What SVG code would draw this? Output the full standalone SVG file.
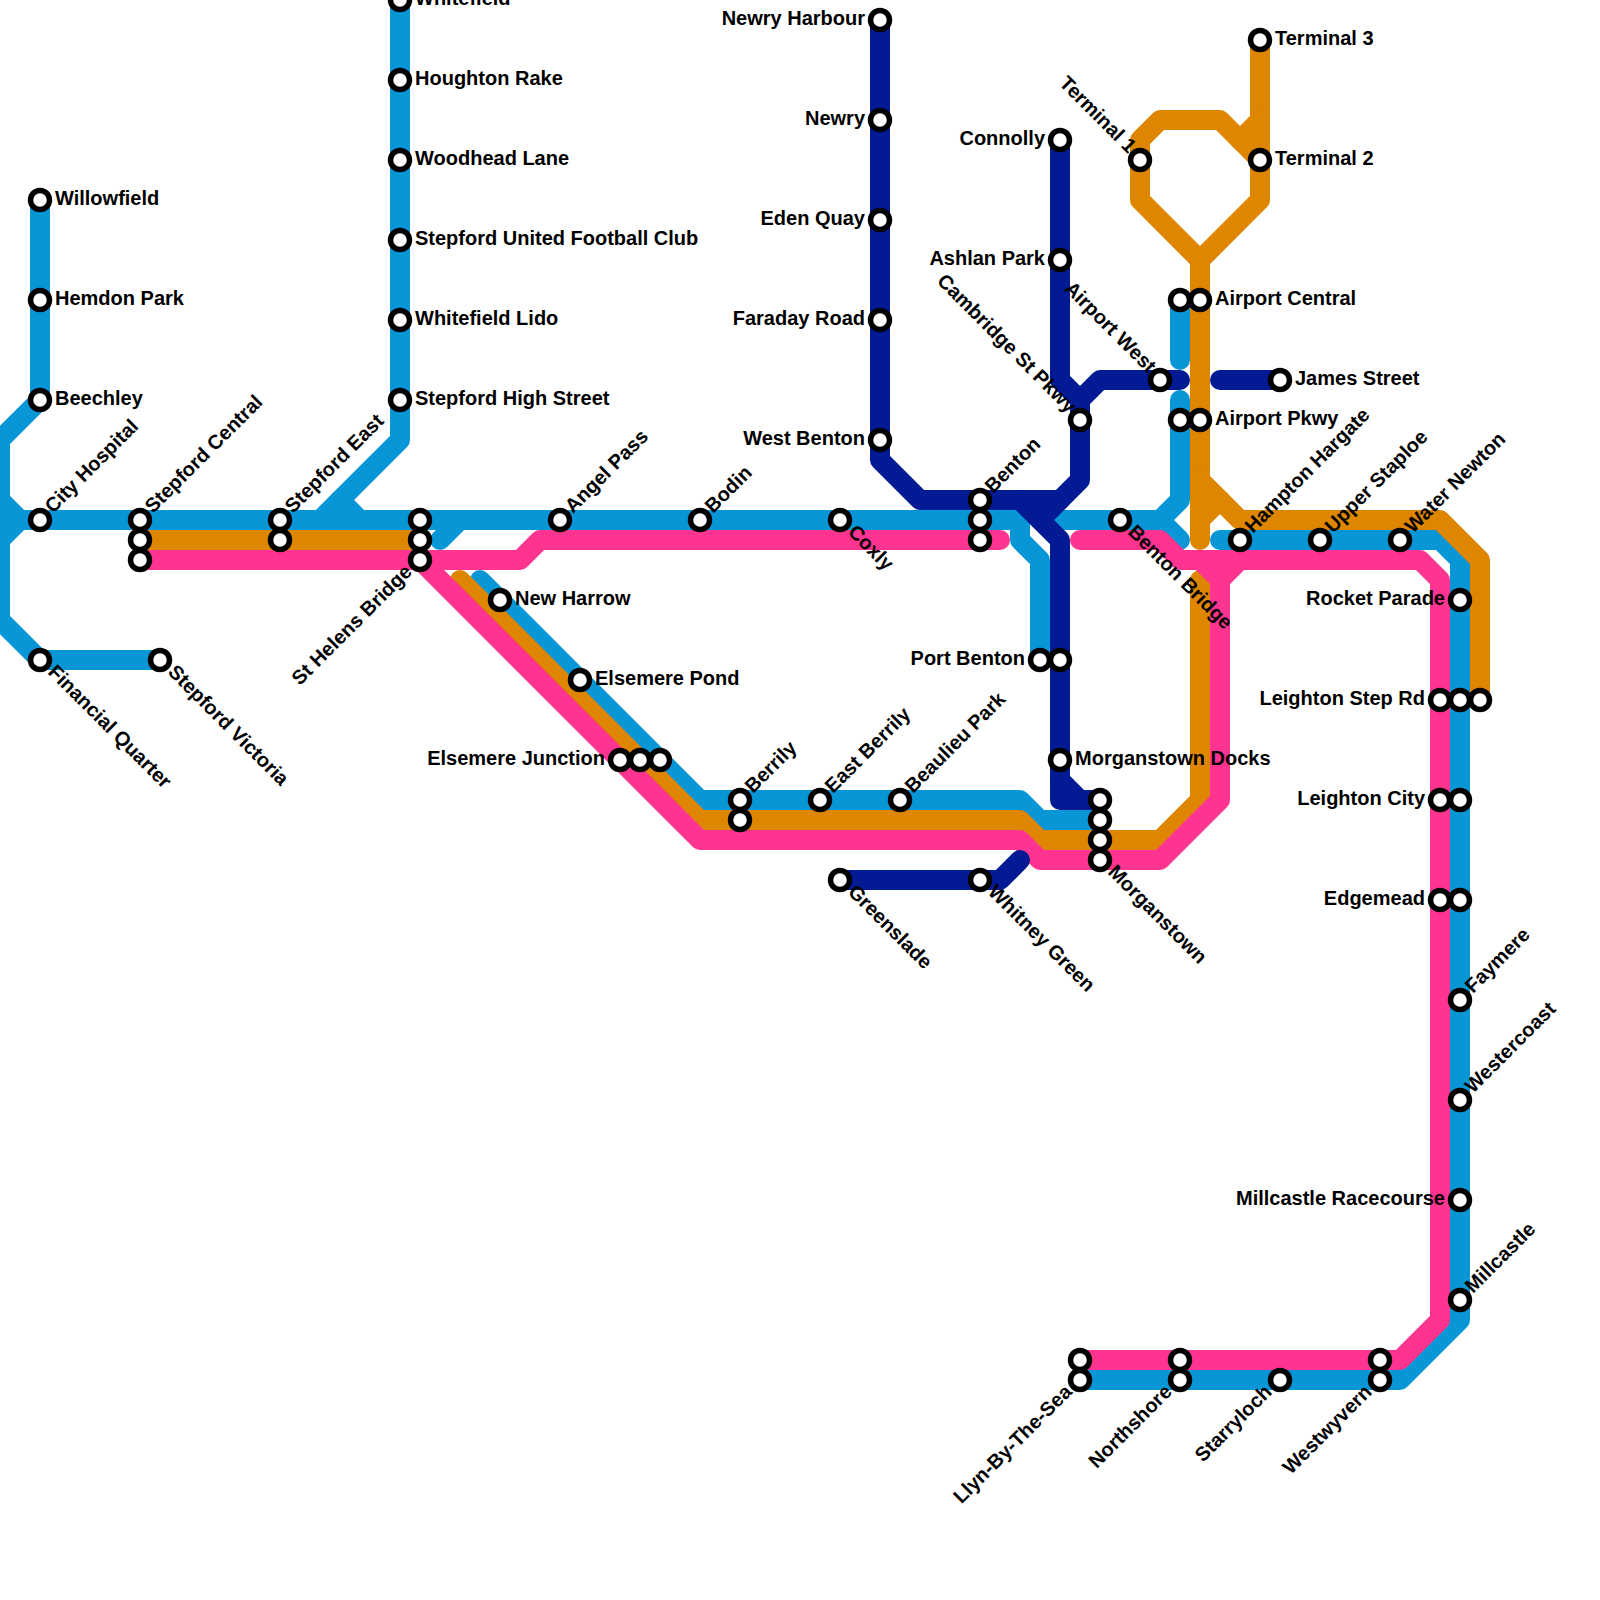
<svg xmlns="http://www.w3.org/2000/svg" width="1600" height="1600" viewBox="0 0 1600 1600">
<style>
.l{fill:none;stroke-width:20;stroke-linecap:round;stroke-linejoin:round}
.b{stroke:#0896d7}.o{stroke:#df8600}.p{stroke:#ff3390}.n{stroke:#021a94}
circle{fill:#fff;stroke:#000;stroke-width:5.5}
text{font-family:"Liberation Sans",Arial,sans-serif;font-weight:700;font-size:20px;fill:#000}
.e{text-anchor:end}
</style>
<rect width="1600" height="1600" fill="#fff"/>
<g id="connectors">
<g id="line-blue" class="l b">
<path d="M40,200V400L0,440V620L40,660H160"/>
<path d="M0,500L20,520H1020V540L1040,560V660"/>
<path d="M0,540L20,520"/>
<path d="M400,0V440L320,520"/>
<path d="M340,500L360,520"/>
<path d="M440,540L460,520"/>
<path d="M480,580L700,800H1020L1040,820H1100"/>
<path d="M1050,520H1160L1180,500V400"/>
<path d="M1160,520L1180,540"/>
<path d="M1180,300V360"/>
<path d="M1220,540H1440L1460,560V1320L1400,1380H1080"/>
</g>
<g id="line-orange" class="l o">
<path d="M140,540H420"/>
<path d="M460,580L700,820H1020L1040,840H1160L1200,800V580"/>
<path d="M1200,540V260L1140,200V140L1160,120H1220L1260,160"/>
<path d="M1200,260L1260,200V40"/>
<path d="M1240,140L1260,120"/>
<path d="M1200,480L1240,520H1440L1480,560V700"/>
<path d="M1220,500L1200,520"/>
</g>
<g id="line-pink" class="l p">
<path d="M140,560H520L540,540H1000"/>
<path d="M420,560L700,840H1020L1040,860H1160L1220,800V580L1240,560"/>
<path d="M1080,540H1160L1180,560H1420L1440,580V1320L1400,1360H1080"/>
<path d="M1200,560L1220,580"/>
</g>
<g id="line-navy" class="l n">
<path d="M880,20V460L920,500H1060L1080,480V400L1100,380H1180"/>
<path d="M1060,140V380L1080,400"/>
<path d="M1060,500L1040,520"/>
<path d="M1020,500L1060,540V800H1100"/>
<path d="M1060,780L1080,800"/>
<path d="M1220,380H1280"/>
<path d="M840,880H1000L1020,860"/>
</g>
</g>
<g id="willowfield"><circle cx="40" cy="200" r="9.5"/><text x="55" y="205">Willowfield</text></g>
<g id="hemdon-park"><circle cx="40" cy="300" r="9.5"/><text x="55" y="305">Hemdon Park</text></g>
<g id="beechley"><circle cx="40" cy="400" r="9.5"/><text x="55" y="405">Beechley</text></g>
<g id="city-hospital"><circle cx="40" cy="520" r="9.5"/><text transform="translate(53,514) rotate(-45)">City Hospital</text></g>
<g id="financial-quarter"><circle cx="40" cy="660" r="9.5"/><text transform="translate(47,673) rotate(45)">Financial Quarter</text></g>
<g id="stepford-victoria"><circle cx="160" cy="660" r="9.5"/><text transform="translate(167,673) rotate(45)">Stepford Victoria</text></g>
<g id="stepford-central"><circle cx="140" cy="520" r="9.5"/><circle cx="140" cy="540" r="9.5"/><circle cx="140" cy="560" r="9.5"/><text transform="translate(153,514) rotate(-45)">Stepford Central</text></g>
<g id="stepford-east"><circle cx="280" cy="520" r="9.5"/><circle cx="280" cy="540" r="9.5"/><text transform="translate(293,514) rotate(-45)">Stepford East</text></g>
<g id="st-helens-bridge"><circle cx="420" cy="520" r="9.5"/><circle cx="420" cy="540" r="9.5"/><circle cx="420" cy="560" r="9.5"/><text class="e" transform="translate(413,573) rotate(-45)">St Helens Bridge</text></g>
<g id="whitefield"><circle cx="400" cy="0" r="9.5"/><text x="415" y="5">Whitefield</text></g>
<g id="houghton-rake"><circle cx="400" cy="80" r="9.5"/><text x="415" y="85">Houghton Rake</text></g>
<g id="woodhead-lane"><circle cx="400" cy="160" r="9.5"/><text x="415" y="165">Woodhead Lane</text></g>
<g id="stepford-united"><circle cx="400" cy="240" r="9.5"/><text x="415" y="245">Stepford United Football Club</text></g>
<g id="whitefield-lido"><circle cx="400" cy="320" r="9.5"/><text x="415" y="325">Whitefield Lido</text></g>
<g id="stepford-high-street"><circle cx="400" cy="400" r="9.5"/><text x="415" y="405">Stepford High Street</text></g>
<g id="angel-pass"><circle cx="560" cy="520" r="9.5"/><text transform="translate(573,514) rotate(-45)">Angel Pass</text></g>
<g id="bodin"><circle cx="700" cy="520" r="9.5"/><text transform="translate(713,514) rotate(-45)">Bodin</text></g>
<g id="coxly"><circle cx="840" cy="520" r="9.5"/><text transform="translate(847,533) rotate(45)">Coxly</text></g>
<g id="benton"><circle cx="980" cy="500" r="9.5"/><circle cx="980" cy="520" r="9.5"/><circle cx="980" cy="540" r="9.5"/><text transform="translate(993,494) rotate(-45)">Benton</text></g>
<g id="new-harrow"><circle cx="500" cy="600" r="9.5"/><text x="515" y="605">New Harrow</text></g>
<g id="elsemere-pond"><circle cx="580" cy="680" r="9.5"/><text x="595" y="685">Elsemere Pond</text></g>
<g id="elsemere-junction"><circle cx="620" cy="760" r="9.5"/><circle cx="640" cy="760" r="9.5"/><circle cx="660" cy="760" r="9.5"/><text class="e" x="605" y="765">Elsemere Junction</text></g>
<g id="berrily"><circle cx="740" cy="800" r="9.5"/><circle cx="740" cy="820" r="9.5"/><text transform="translate(753,794) rotate(-45)">Berrily</text></g>
<g id="east-berrily"><circle cx="820" cy="800" r="9.5"/><text transform="translate(833,794) rotate(-45)">East Berrily</text></g>
<g id="beaulieu-park"><circle cx="900" cy="800" r="9.5"/><text transform="translate(913,794) rotate(-45)">Beaulieu Park</text></g>
<g id="morganstown"><circle cx="1100" cy="800" r="9.5"/><circle cx="1100" cy="820" r="9.5"/><circle cx="1100" cy="840" r="9.5"/><circle cx="1100" cy="860" r="9.5"/><text transform="translate(1107,873) rotate(45)">Morganstown</text></g>
<g id="morganstown-docks"><circle cx="1060" cy="760" r="9.5"/><text x="1075" y="765">Morganstown Docks</text></g>
<g id="port-benton"><circle cx="1040" cy="660" r="9.5"/><circle cx="1060" cy="660" r="9.5"/><text class="e" x="1025" y="665">Port Benton</text></g>
<g id="greenslade"><circle cx="840" cy="880" r="9.5"/><text transform="translate(847,893) rotate(45)">Greenslade</text></g>
<g id="whitney-green"><circle cx="980" cy="880" r="9.5"/><text transform="translate(987,893) rotate(45)">Whitney Green</text></g>
<g id="newry-harbour"><circle cx="880" cy="20" r="9.5"/><text class="e" x="865" y="25">Newry Harbour</text></g>
<g id="newry"><circle cx="880" cy="120" r="9.5"/><text class="e" x="865" y="125">Newry</text></g>
<g id="eden-quay"><circle cx="880" cy="220" r="9.5"/><text class="e" x="865" y="225">Eden Quay</text></g>
<g id="faraday-road"><circle cx="880" cy="320" r="9.5"/><text class="e" x="865" y="325">Faraday Road</text></g>
<g id="west-benton"><circle cx="880" cy="440" r="9.5"/><text class="e" x="865" y="445">West Benton</text></g>
<g id="connolly"><circle cx="1060" cy="140" r="9.5"/><text class="e" x="1045" y="145">Connolly</text></g>
<g id="ashlan-park"><circle cx="1060" cy="260" r="9.5"/><text class="e" x="1045" y="265">Ashlan Park</text></g>
<g id="airport-west"><circle cx="1160" cy="380" r="9.5"/><text class="e" transform="translate(1148,374) rotate(45)">Airport West</text></g>
<g id="cambridge-st-pkwy"><circle cx="1080" cy="420" r="9.5"/><text class="e" transform="translate(1068,414) rotate(45)">Cambridge St Pkwy</text></g>
<g id="airport-central"><circle cx="1180" cy="300" r="9.5"/><circle cx="1200" cy="300" r="9.5"/><text x="1215" y="305">Airport Central</text></g>
<g id="airport-pkwy"><circle cx="1180" cy="420" r="9.5"/><circle cx="1200" cy="420" r="9.5"/><text x="1215" y="425">Airport Pkwy</text></g>
<g id="james-street"><circle cx="1280" cy="380" r="9.5"/><text x="1295" y="385">James Street</text></g>
<g id="terminal-1"><circle cx="1140" cy="160" r="9.5"/><text class="e" transform="translate(1128,154) rotate(45)">Terminal 1</text></g>
<g id="terminal-2"><circle cx="1260" cy="160" r="9.5"/><text x="1275" y="165">Terminal 2</text></g>
<g id="terminal-3"><circle cx="1260" cy="40" r="9.5"/><text x="1275" y="45">Terminal 3</text></g>
<g id="benton-bridge"><circle cx="1120" cy="520" r="9.5"/><text transform="translate(1127,533) rotate(45)">Benton Bridge</text></g>
<g id="hampton-hargate"><circle cx="1240" cy="540" r="9.5"/><text transform="translate(1253,534) rotate(-45)">Hampton Hargate</text></g>
<g id="upper-staploe"><circle cx="1320" cy="540" r="9.5"/><text transform="translate(1333,534) rotate(-45)">Upper Staploe</text></g>
<g id="water-newton"><circle cx="1400" cy="540" r="9.5"/><text transform="translate(1413,534) rotate(-45)">Water Newton</text></g>
<g id="rocket-parade"><circle cx="1460" cy="600" r="9.5"/><text class="e" x="1445" y="605">Rocket Parade</text></g>
<g id="leighton-step-rd"><circle cx="1440" cy="700" r="9.5"/><circle cx="1460" cy="700" r="9.5"/><circle cx="1480" cy="700" r="9.5"/><text class="e" x="1425" y="705">Leighton Step Rd</text></g>
<g id="leighton-city"><circle cx="1440" cy="800" r="9.5"/><circle cx="1460" cy="800" r="9.5"/><text class="e" x="1425" y="805">Leighton City</text></g>
<g id="edgemead"><circle cx="1440" cy="900" r="9.5"/><circle cx="1460" cy="900" r="9.5"/><text class="e" x="1425" y="905">Edgemead</text></g>
<g id="faymere"><circle cx="1460" cy="1000" r="9.5"/><text transform="translate(1473,994) rotate(-45)">Faymere</text></g>
<g id="westercoast"><circle cx="1460" cy="1100" r="9.5"/><text transform="translate(1473,1094) rotate(-45)">Westercoast</text></g>
<g id="millcastle-racecourse"><circle cx="1460" cy="1200" r="9.5"/><text class="e" x="1445" y="1205">Millcastle Racecourse</text></g>
<g id="millcastle"><circle cx="1460" cy="1300" r="9.5"/><text transform="translate(1473,1294) rotate(-45)">Millcastle</text></g>
<g id="llyn-by-the-sea"><circle cx="1080" cy="1360" r="9.5"/><circle cx="1080" cy="1380" r="9.5"/><text class="e" transform="translate(1073,1393) rotate(-45)">Llyn-By-The-Sea</text></g>
<g id="northshore"><circle cx="1180" cy="1360" r="9.5"/><circle cx="1180" cy="1380" r="9.5"/><text class="e" transform="translate(1173,1393) rotate(-45)">Northshore</text></g>
<g id="starryloch"><circle cx="1280" cy="1380" r="9.5"/><text class="e" transform="translate(1273,1393) rotate(-45)">Starryloch</text></g>
<g id="westwyvern"><circle cx="1380" cy="1360" r="9.5"/><circle cx="1380" cy="1380" r="9.5"/><text class="e" transform="translate(1373,1393) rotate(-45)">Westwyvern</text></g>
</svg>
